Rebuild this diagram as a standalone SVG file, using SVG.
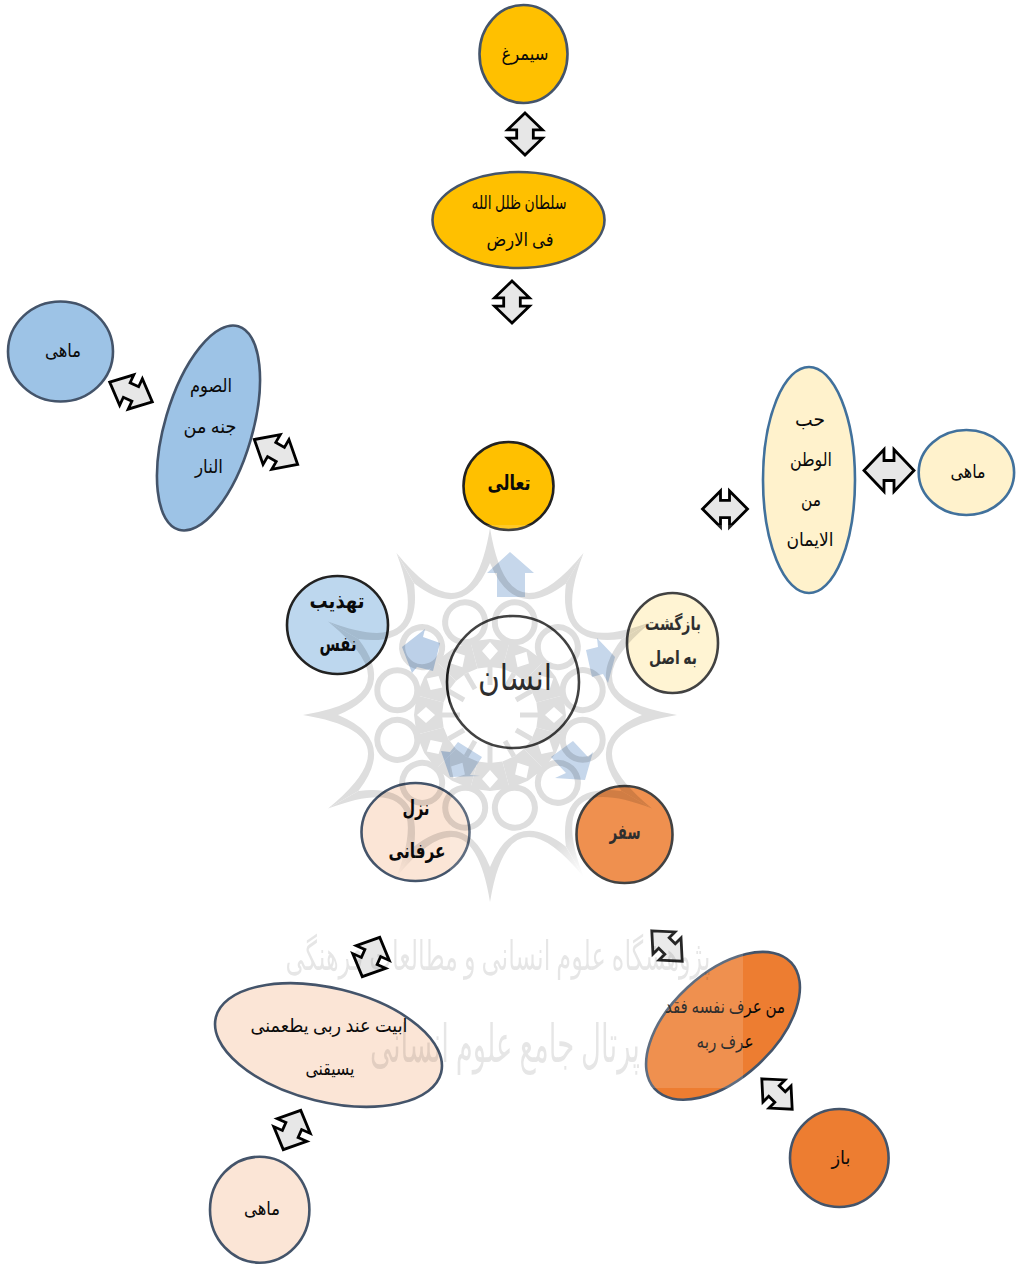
<svg xmlns="http://www.w3.org/2000/svg" xmlns:xlink="http://www.w3.org/1999/xlink" width="1017" height="1264" viewBox="0 0 1017 1264">
<style>
text{font-family:"Liberation Serif","DejaVu Sans","Noto Sans",serif;fill:#0a0a0a;text-anchor:middle;direction:rtl;font-size:19px}
.b{font-weight:bold;font-size:21px}
.dk{stroke:#222;stroke-width:2.6}
.sl{stroke:#44546A;stroke-width:2.6}
.bl{stroke:#41719C;stroke-width:2.6}
.dbl{fill:#e7e7e7;stroke:#000;stroke-width:2.8;stroke-linejoin:miter;vector-effect:non-scaling-stroke}
.blk{fill:#bcd0e8}
#wm text{fill:#000}
</style>
<defs>
<polygon id="dbl" class="dbl" points="-25,0 -5,-21 -5,-10 5,-10 5,-21 25,0 5,21 5,10 -5,10 -5,21"/>
<g id="sector">
<path d="M0,-187Q19,-71 93.5,-162L76,-131.600Q24.600,-92 0,-152Z" fill="#000"/>
<circle cx="24.800" cy="-92.700" r="20" fill="none" stroke="#000" stroke-width="6"/>
<path d="M-19.700,-73.400L0,-76L19.700,-73.400L12.400,-46.400L0,-48L-12.400,-46.400ZM0,-73L-8,-64L0,-55L8,-64Z" fill="#000" fill-rule="evenodd"/>
<path d="M0,-48L0,-30" stroke="#000" stroke-width="5" fill="none"/>
</g>
<radialGradient id="fade"><stop offset=".35" stop-color="#000"/><stop offset="1" stop-color="#000" stop-opacity="0"/></radialGradient>
<mask id="wmfade" maskUnits="userSpaceOnUse" x="280" y="510" width="420" height="420">
<rect x="280" y="510" width="420" height="420" fill="#fff"/>
<circle cx="600" cy="890" r="62" fill="url(#fade)"/>
<circle cx="380" cy="890" r="62" fill="url(#fade)"/>
</mask>
</defs>
<g id="node-simorgh"><ellipse cx="523.5" cy="54" rx="44" ry="49" fill="#FFC000" class="sl"/><text x="525" y="60" textLength="47" lengthAdjust="spacingAndGlyphs">سیمرغ</text></g>
<g id="node-soltan"><ellipse cx="518.5" cy="220" rx="86" ry="48" fill="#FFC000" class="sl"/><text x="519" y="209" textLength="95" lengthAdjust="spacingAndGlyphs">سلطان ظلل الله</text><text x="520" y="246" textLength="67" lengthAdjust="spacingAndGlyphs">فی الارض</text></g>
<g id="node-mahi-blue"><ellipse cx="60.5" cy="351.500" rx="52.5" ry="50" fill="#9DC3E6" class="sl"/><text x="63" y="357" textLength="36" lengthAdjust="spacingAndGlyphs">ماهی</text></g>
<g id="node-sowm"><ellipse cx="208.5" cy="428" rx="43.8" ry="106" transform="rotate(16.3 208.5 428)" fill="#9DC3E6" class="sl"/><text x="211" y="392" textLength="42" lengthAdjust="spacingAndGlyphs">الصوم</text><text x="210" y="433" textLength="53" lengthAdjust="spacingAndGlyphs">جنه من</text><text x="209" y="473" textLength="28" lengthAdjust="spacingAndGlyphs">النار</text></g>
<g id="node-hobb"><ellipse cx="809" cy="480" rx="46" ry="113" fill="#FFF2CC" class="bl"/><text x="810" y="426" textLength="30" lengthAdjust="spacingAndGlyphs">حب</text><text x="811" y="466" textLength="42" lengthAdjust="spacingAndGlyphs">الوطن</text><text x="811" y="506" textLength="20" lengthAdjust="spacingAndGlyphs">من</text><text x="810" y="546" textLength="47" lengthAdjust="spacingAndGlyphs">الایمان</text></g>
<g id="node-mahi-cream"><ellipse cx="966.4" cy="472.5" rx="47.7" ry="42.5" fill="#FFF2CC" class="bl"/><text x="968" y="478" textLength="35" lengthAdjust="spacingAndGlyphs">ماهی</text></g>
<g id="node-taali"><ellipse cx="508.5" cy="486" rx="45" ry="44" fill="#FFC000" class="dk"/><text class="b" x="509" y="490" textLength="43" lengthAdjust="spacingAndGlyphs">تعالی</text></g>
<g id="node-ensan"><circle cx="513" cy="682" r="66" fill="#fff" class="dk"/><text x="515" y="690" textLength="74" lengthAdjust="spacingAndGlyphs" style="font-size:36px">انسان</text></g>
<g id="node-bazgasht"><ellipse cx="672.5" cy="643" rx="45.5" ry="50" fill="#FFF2CC" class="dk"/><text x="673" y="630" font-weight="bold" textLength="56" lengthAdjust="spacingAndGlyphs">بازگشت</text><text x="673" y="664" font-weight="bold" textLength="48" lengthAdjust="spacingAndGlyphs">به اصل</text></g>
<g id="node-tahzib"><ellipse cx="337.5" cy="625" rx="50.5" ry="49" fill="#BDD7EE" class="dk"/><text class="b" x="337" y="608" textLength="55" lengthAdjust="spacingAndGlyphs">تهذیب</text><text class="b" x="338" y="651" textLength="37" lengthAdjust="spacingAndGlyphs">نفس</text></g>
<g id="node-nozul"><ellipse cx="415.5" cy="832" rx="54" ry="49" fill="#FBE5D6" class="sl"/><text class="b" x="416" y="815" textLength="27" lengthAdjust="spacingAndGlyphs">نزل</text><text class="b" x="417" y="858" textLength="57" lengthAdjust="spacingAndGlyphs">عرفانی</text></g>
<g id="node-safar"><ellipse cx="624.5" cy="834.5" rx="48" ry="48.5" fill="#ED7D31" class="dk"/><text class="b" x="625" y="839" textLength="31" lengthAdjust="spacingAndGlyphs">سفر</text></g>
<g id="node-abit"><ellipse cx="328.5" cy="1045" rx="116" ry="56.8" transform="rotate(13.8 328.5 1045)" fill="#FBE5D6" class="sl"/><text x="329" y="1032" textLength="157" lengthAdjust="spacingAndGlyphs">ابیت عند ربی یطعمنی</text><text x="330" y="1075" textLength="49" lengthAdjust="spacingAndGlyphs">یسیقنی</text></g>
<g id="node-mahi-peach"><ellipse cx="259.7" cy="1209.7" rx="49.7" ry="53" fill="#FBE5D6" class="sl"/><text x="262" y="1215" textLength="36" lengthAdjust="spacingAndGlyphs">ماهی</text></g>
<g id="node-man-arafa"><ellipse cx="723" cy="1025.8" rx="93" ry="52.3" transform="rotate(-42.8 723 1025.8)" fill="#ED7D31" class="sl"/><text x="725" y="1013" textLength="120" lengthAdjust="spacingAndGlyphs">من عرف نفسه فقد</text><text x="725" y="1048" textLength="57" lengthAdjust="spacingAndGlyphs">عرف ربه</text></g>
<g id="node-baz"><ellipse cx="839.3" cy="1158" rx="49.3" ry="49" fill="#ED7D31" class="sl"/><text x="841" y="1164" textLength="19" lengthAdjust="spacingAndGlyphs">باز</text></g>
<g id="connectors">
<polygon class="blk" points="510,552 534,573 525,573 525,597 497,597 497,573 487,573"/>
<polygon class="blk" points="615,657 597,638 598,647 586,650 592,677 603,674 608,683"/>
<polygon class="blk" points="402,647 425,629 423,637 440,643 433,671 417,667 412,673"/>
<polygon class="blk" points="450,777 441,751 450,752 458,742 482,757 470,775 480,776"/>
<polygon class="blk" points="585,780 593,752 588,757 573,741 551,757 566,773 555,778"/>
<use href="#dbl" transform="translate(525 134) rotate(90) scale(.84 .83)"/>
<use href="#dbl" transform="translate(512 302) rotate(90) scale(.84 .83)"/>
<use href="#dbl" transform="translate(889 470.500)"/>
<use href="#dbl" transform="translate(725 509) scale(.9 .86)"/>
<use href="#dbl" transform="translate(131 392) rotate(25) scale(.94 .8)"/>
<use href="#dbl" transform="translate(276 452) rotate(30) scale(1 .82)"/>
<use href="#dbl" transform="translate(371 957) rotate(-66) scale(.86 .86)"/>
<use href="#dbl" transform="translate(292 1130) rotate(-66) scale(.86 .86)"/>
<use href="#dbl" transform="translate(667 946) rotate(45) scale(.86 .74)"/>
<use href="#dbl" transform="translate(777 1094) rotate(45) scale(.86 .74)"/>
</g>
<g id="wm">
<rect x="450" y="525" width="293" height="563" fill="#fff" fill-opacity=".15"/>
<g mask="url(#wmfade)">
<g opacity=".13" transform="translate(490 715)">
<use href="#sector"/>
<use href="#sector" transform="rotate(30)"/>
<use href="#sector" transform="rotate(60)"/>
<use href="#sector" transform="rotate(90)"/>
<use href="#sector" transform="rotate(120)"/>
<use href="#sector" transform="rotate(150)"/>
<use href="#sector" transform="rotate(180)"/>
<use href="#sector" transform="rotate(210)"/>
<use href="#sector" transform="rotate(240)"/>
<use href="#sector" transform="rotate(270)"/>
<use href="#sector" transform="rotate(300)"/>
<use href="#sector" transform="rotate(330)"/>
</g>
</g>
<g opacity=".1">
<text transform="translate(498 970) scale(1 1.7)" style="font-size:24px">پژوهشگاه علوم انسانی و مطالعات فرهنگی</text>
<text transform="translate(505 1062) scale(1 1.5)" style="font-size:35px" textLength="270" lengthAdjust="spacingAndGlyphs">پرتال جامع علوم انسانی</text>
</g>
</g>
</svg>
